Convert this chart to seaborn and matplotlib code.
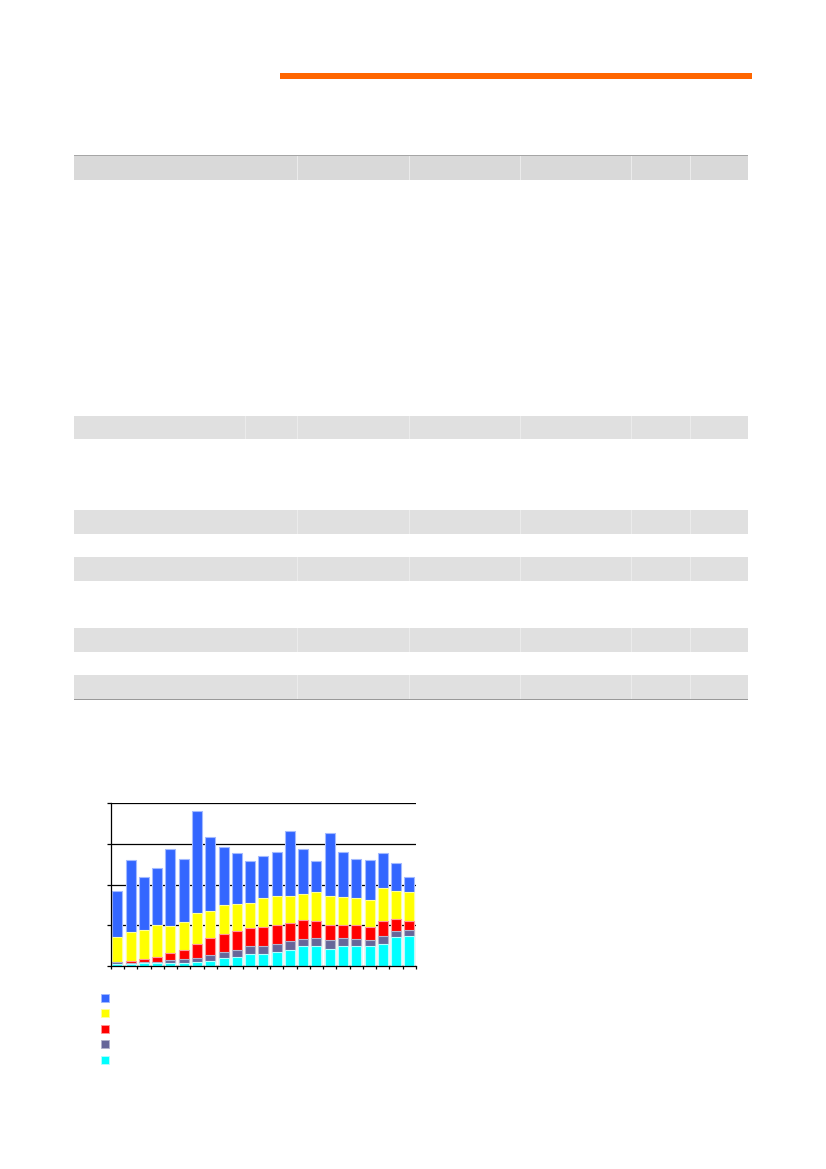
import pandas as pd
import seaborn as sns
import matplotlib.pyplot as plt
from matplotlib.patches import Rectangle, Patch

# stacked series, bottom to top (chart units, gridlines every 100)
periods = [str(i) for i in range(1, 24)]
cyan_vals = [6, 5, 7, 7, 7, 7, 10, 12, 20, 23, 30, 30, 35, 40, 48, 48, 43, 50, 50, 48, 55, 71, 73]
slate_vals = [3, 3, 4, 4, 7, 10, 10, 15, 14, 16, 20, 20, 18, 21, 18, 20, 20, 18, 16, 15, 18, 15, 15]
red_vals = [2, 4, 6, 11, 17, 22, 35, 41, 44, 46, 43, 46, 47, 44, 46, 42, 37, 34, 34, 33, 37, 29, 22]
yellow_vals = [60, 71, 71, 78, 67, 68, 76, 68, 71, 68, 63, 70, 71, 68, 66, 71, 73, 68, 66, 67, 82, 69, 71]
blue_vals = [114, 177, 131, 142, 189, 155, 250, 180, 144, 124, 102, 104, 110, 158, 110, 76, 153, 110, 97, 97, 85, 69, 38]

layers = ['cyan', 'slate', 'red', 'yellow', 'blue']
colors = {'cyan': '#00FFFF', 'slate': '#666699', 'red': '#FF0000',
          'yellow': '#FFFF00', 'blue': '#3366FF'}
edges = {'cyan': '#B3FFFF', 'slate': '#B3B3CC', 'red': '#FF9999',
         'yellow': '#FFFF99', 'blue': '#A3BAFF'}

df = pd.DataFrame({'periodo': periods, 'cyan': cyan_vals, 'slate': slate_vals,
                   'red': red_vals, 'yellow': yellow_vals, 'blue': blue_vals})
cum = df[layers].cumsum(axis=1)
cum['periodo'] = df['periodo']

W, H = 826, 1169
fig = plt.figure(figsize=(W / 100, H / 100), dpi=100)
sns.set_style('white')


def px_rect(x0, y0, x1, y1, color, z=0):
    fig.patches.append(Rectangle((x0 / W, 1 - y1 / H), (x1 - x0) / W, (y1 - y0) / H,
                                 transform=fig.transFigure, facecolor=color,
                                 edgecolor='none', zorder=z))


# orange header rule
px_rect(280, 73, 752, 79, '#FF6600')

# empty table bands
bands = [(155, 180, '#D9D9D9'), (416, 439, '#E0E0E0'), (510, 534, '#E0E0E0'),
         (557, 581, '#E0E0E0'), (628, 652, '#E0E0E0'), (675, 699, '#E0E0E0')]
for y0, y1, c in bands:
    px_rect(74, y0, 748, y1, c)
    for sx in [297, 409, 520, 631, 690]:
        px_rect(sx, y0, sx + 1, y1, '#EBEBEB', 1)
px_rect(245, 416, 246, 439, '#EBEBEB', 1)
px_rect(74, 155, 748, 156, '#A6A6A6', 2)
px_rect(74, 698.5, 748, 699.7, '#999999', 2)

# chart
ax = fig.add_axes([110.7 / W, 1 - 966 / H, (416 - 110.7) / W, (966 - 803.3) / H])
for layer in reversed(layers):
    sns.barplot(data=cum, x='periodo', y=layer, color=colors[layer], width=0.75,
                saturation=1, edgecolor=edges[layer], linewidth=0.8, ax=ax)

ax.set_xlim(-0.5, len(periods) - 0.5)
ax.set_ylim(0, 400)
ax.set_yticks([0, 100, 200, 300, 400])
ax.set_xticks([i - 0.5 for i in range(len(periods) + 1)])
ax.set_xticklabels([])
ax.set_yticklabels([])
ax.set_xlabel('')
ax.set_ylabel('')
ax.grid(axis='y', color='black', linewidth=0.9)
ax.set_axisbelow(True)
for s in ['top', 'right']:
    ax.spines[s].set_visible(False)
for s in ['left', 'bottom']:
    ax.spines[s].set_color('black')
    ax.spines[s].set_linewidth(0.9)
ax.tick_params(axis='y', direction='out', length=3, width=0.9, color='black', left=True)
ax.tick_params(axis='x', direction='out', length=2.2, width=0.9, color='black', bottom=True)

handles = [Patch(facecolor=colors[l], edgecolor=edges[l], linewidth=0.6)
           for l in reversed(layers)]
fig.legend(handles, [''] * 5, loc='upper left',
           bbox_to_anchor=(100.5 / W, 1 - 993.5 / H), frameon=False, fontsize=8,
           borderpad=0, borderaxespad=0, labelspacing=0.5,
           handlelength=0.75, handleheight=0.75, handletextpad=0.5)

fig.savefig('out.png', dpi=100, facecolor='white')
